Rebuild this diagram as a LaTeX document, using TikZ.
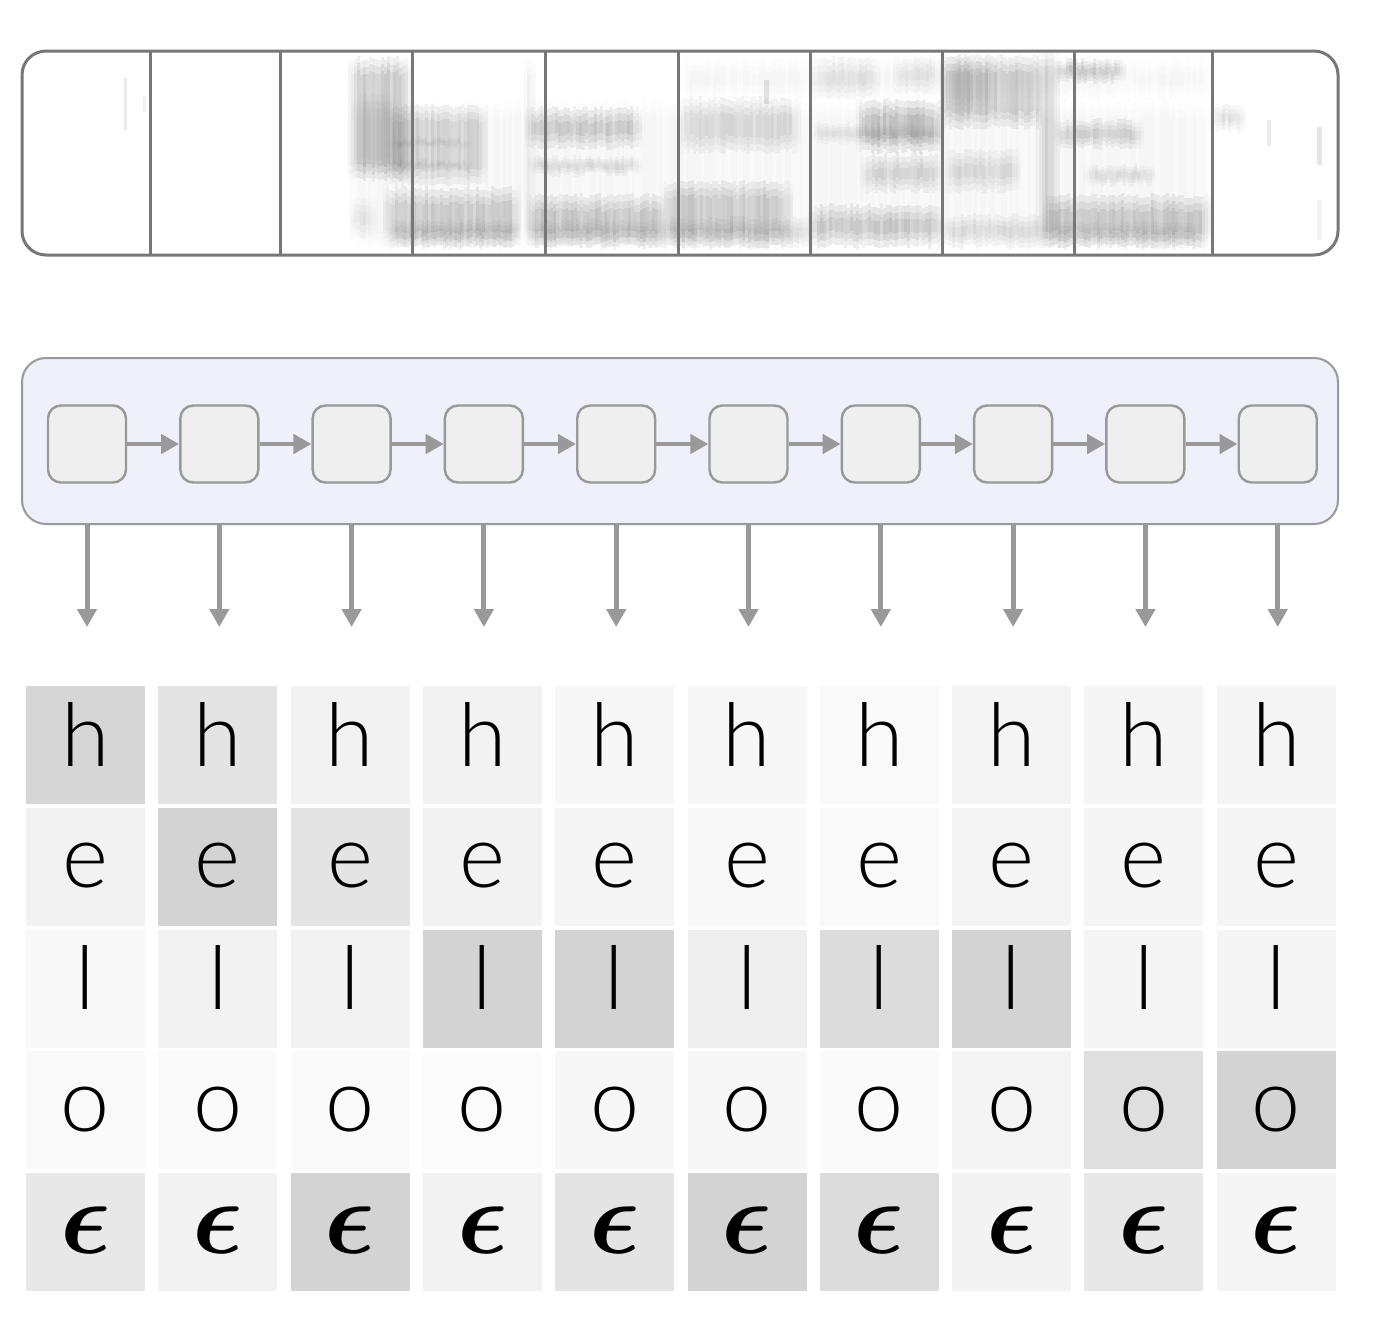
\documentclass[tikz,border=0pt]{standalone}
\usepackage{graphicx}
\usepackage{fontspec}
\usetikzlibrary{arrows.meta}
\IfFontExistsTF{Lato Light}{\newfontfamily\cellfont{Lato Light}}{\newfontfamily\cellfont{Lato}}
\definecolor{arrowgray}{HTML}{999999}
\definecolor{specgray}{HTML}{777777}
\definecolor{encfill}{HTML}{EEF1F9}
\definecolor{rnnfill}{HTML}{EFEFEF}
\newcommand\specblob[5]{%
  \pgfmathtruncatemacro\sbA{#1}%
  \pgfmathtruncatemacro\sbB{#1+3}%
  \pgfmathtruncatemacro\sbC{#2-3}%
  \foreach \xx in {\sbA,\sbB,...,\sbC}{%
    \pgfmathsetmacro\sbf{min(1,(\xx-#1+3)/14,(#2-\xx)/14)}%
    \pgfmathsetmacro\sbop{0.8*\sbf*#5*(0.6+0.4*rnd)/3}%
    \pgfmathsetmacro\sbya{#3+5*rnd}%
    \pgfmathsetmacro\sbyb{#4-5*rnd}%
    \pgfmathsetmacro\sbh{min(7,(\sbyb-\sbya)/6)}%
    \fill[black,opacity=\sbop] (\xx,\sbya) rectangle (\xx+3,\sbyb);
    \fill[black,opacity=\sbop] (\xx,\sbya+\sbh) rectangle (\xx+3,\sbyb-\sbh);
    \fill[black,opacity=\sbop] (\xx,\sbya+2*\sbh) rectangle (\xx+3,\sbyb-2*\sbh);
  }%
}
\tikzset{
  specline/.style={specgray,line width=3pt},
  encbox/.style={draw=arrowgray,line width=2pt,fill=encfill,rounded corners=24pt,
    minimum width=1316pt,minimum height=166pt,inner sep=0pt},
  rnncell/.style={draw=arrowgray,line width=2.4pt,fill=rnnfill,rounded corners=13pt,
    minimum width=78pt,minimum height=77pt,inner sep=0pt},
  recarrow/.style={arrowgray,line width=4.5pt,-{Triangle[length=18pt,width=19pt]}},
  downarrow/.style={arrowgray,line width=5pt,-{Triangle[length=18pt,width=19pt]}},
  gcell/.style={minimum width=119pt,minimum height=118pt,inner sep=0pt,
    text height=62pt,text depth=20pt,font=\cellfont\fontsize{88}{92}\selectfont},
  ecell/.style={gcell,font=\normalsize},
}
\begin{document}
\begin{tikzpicture}[x=1pt,y=-1pt]
\useasboundingbox (0,0) rectangle (1380,1326);
\pgfmathsetseed{7}
% spectrogram
\begin{scope}
\clip[rounded corners=24pt] (22,51) rectangle (1338,255);
\fill[black,opacity=0.07] (124,78) rectangle (127,130);
\fill[black,opacity=0.05] (143,96) rectangle (146,112);
\specblob{350}{1212}{100}{249}{0.05}
\specblob{680}{1212}{56}{102}{0.05}
% A
\specblob{348}{412}{56}{182}{0.30}
\specblob{352}{396}{92}{176}{0.10}
\specblob{348}{378}{196}{240}{0.12}
% B
\specblob{386}{490}{103}{187}{0.24}
\specblob{388}{472}{136}{150}{0.10}
\specblob{388}{472}{158}{172}{0.10}
\specblob{383}{522}{186}{249}{0.28}
\specblob{388}{522}{218}{249}{0.16}
\specblob{524}{536}{56}{247}{0.18}
% C
\specblob{525}{644}{106}{150}{0.28}
\specblob{528}{642}{155}{177}{0.18}
\specblob{526}{667}{193}{249}{0.30}
\specblob{528}{667}{218}{249}{0.16}
\specblob{661}{794}{180}{249}{0.28}
\specblob{661}{814}{216}{249}{0.16}
\specblob{678}{802}{96}{154}{0.20}
\fill[black,opacity=0.1] (764,80) rectangle (769,104);
% E
\specblob{811}{882}{56}{100}{0.14}
\specblob{893}{942}{54}{94}{0.14}
\specblob{856}{944}{98}{154}{0.34}
\specblob{811}{944}{122}{146}{0.14}
\specblob{860}{944}{152}{194}{0.22}
\specblob{808}{944}{203}{249}{0.30}
% D
\specblob{940}{1044}{54}{130}{0.30}
\specblob{940}{997}{56}{117}{0.14}
\specblob{943}{1022}{148}{194}{0.20}
\specblob{940}{1050}{213}{249}{0.18}
\specblob{1036}{1060}{50}{249}{0.24}
% F
\specblob{1054}{1127}{58}{84}{0.28}
\specblob{1054}{1144}{118}{150}{0.24}
\specblob{1083}{1157}{164}{187}{0.16}
\specblob{1043}{1212}{193}{249}{0.30}
\specblob{1048}{1202}{220}{249}{0.14}
\specblob{1210}{1247}{102}{134}{0.18}
\fill[black,opacity=0.08] (1267,120) rectangle (1271,146);
\fill[black,opacity=0.10] (1317,127) rectangle (1322,165);
\fill[black,opacity=0.05] (1317,200) rectangle (1322,240);
\end{scope}
\draw[specline,rounded corners=24pt] (22,51) rectangle (1338,255);
\foreach \x in {150,280,412,545,678,810,942,1074,1212}
  \draw[specline] (\x,51) -- (\x,255);
% encoder
\node[encbox] (enc) at (680,441) {};
\foreach \i in {1,...,10}{
  \node[rnncell] (c\i) at ({87+132.3*(\i-1)},444) {};
  \coordinate (o\i) at ({87+132.3*(\i-1)},627);
}
\foreach \i [evaluate=\i as \j using int(\i+1)] in {1,...,9}
  \draw[recarrow] (c\i) -- (c\j);
\foreach \i in {1,...,10}
  \draw[downarrow] (c\i |- enc.south) -- (o\i);
% output grid
\foreach \r/\ltr/\vals in {
  1/h/{214,228,242,242,247,247,249,244,245,245},
  2/e/{242,211,228,242,245,248,249,244,245,245},
  3/l/{248,242,242,211,211,238,220,211,245,245},
  4/o/{249,250,250,251,247,247,250,244,223,211}}{
  \foreach \v [count=\c] in \vals{
    \node[gcell,fill={rgb,255:red,\v;green,\v;blue,\v}] (g\r-\c)
      at ({85.5+132.3*(\c-1)},{745+121.75*(\r-1)}) {\ltr};
  }
}
\foreach \v [count=\c] in {232,242,211,242,228,211,220,243,232,245}{
  \node[ecell,fill={rgb,255:red,\v;green,\v;blue,\v}] (g5-\c)
    at ({85.5+132.3*(\c-1)},1232) {\scalebox{10.5}{\boldmath$\epsilon$}};
}
\end{tikzpicture}
\end{document}
